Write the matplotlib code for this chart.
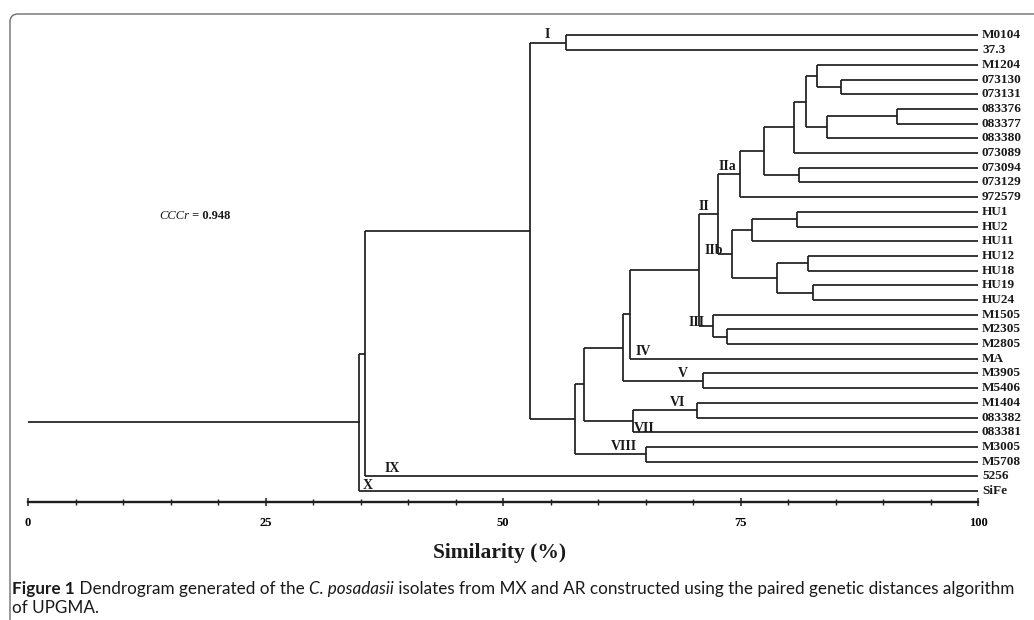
import numpy as np
import matplotlib.pyplot as plt
from matplotlib.patches import FancyBboxPatch

# isolates, top to bottom
leaves = ["M0104", "37.3", "M1204", "073130", "073131", "083376", "083377",
          "083380", "073089", "073094", "073129", "972579", "HU1", "HU2",
          "HU11", "HU12", "HU18", "HU19", "HU24", "M1505", "M2305", "M2805",
          "MA", "M3905", "M5406", "M1404", "083382", "083381", "M3005",
          "M5708", "5256", "SiFe"]

# UPGMA joins: node name, the two children, similarity (%) of the join
node_names = ["a1", "a2", "a3", "a4", "a5", "a6", "a7", "a8", "IIa",
              "b1", "b2", "b3", "b4", "b5", "IIb", "II",
              "c1", "III", "c2", "IV", "V", "c3", "VI", "VII", "c4", "VIII",
              "c5", "I", "c6", "IX", "X"]
child_a = ["073130", "M1204", "083376", "a3", "a2", "a5", "073094", "a6", "a8",
           "HU1", "b1", "HU12", "HU19", "b3", "b2", "IIa",
           "M2305", "M1505", "II", "c2", "M3905", "IV", "M1404", "VI", "c3", "M3005",
           "c4", "M0104", "I", "c6", "IX"]
child_b = ["073131", "a1", "083377", "083380", "a4", "073089", "073129", "a7", "972579",
           "HU2", "HU11", "HU18", "HU24", "b4", "b5", "IIb",
           "M2805", "c1", "III", "MA", "M5406", "V", "083382", "083381", "VII", "M5708",
           "VIII", "37.3", "c5", "5256", "SiFe"]
similarity = [85.6, 83.1, 91.5, 84.1, 81.9, 80.6, 81.2, 77.5, 74.9,
              80.9, 76.2, 82.1, 82.6, 78.8, 74.1, 72.6,
              73.6, 72.1, 70.6, 63.4, 71.1, 62.6, 70.4, 63.7, 58.5, 65.0,
              57.6, 56.6, 52.8, 35.5, 34.8]

axis_ticks = [0, 25, 50, 75, 100]
cccr_value = "0.948"

W, H = 1034, 620
fig = plt.figure(figsize=(W / 100, H / 100), dpi=100)
ax = fig.add_axes([28 / W, 1 - 502 / H, 950 / W, (502 - 20.8) / H])

lc = "#1e1e1e"
lw = 1.25
serif = "Liberation Serif"

pos = {name: (100.0, float(i)) for i, name in enumerate(leaves)}
parent_x = {}
for node, a, b, s in zip(node_names, child_a, child_b, similarity):
    (xa, ya), (xb, yb) = pos[a], pos[b]
    ax.plot([s, xa], [ya, ya], color=lc, lw=lw, solid_capstyle="butt")
    ax.plot([s, xb], [yb, yb], color=lc, lw=lw, solid_capstyle="butt")
    ax.plot([s, s], [ya, yb], color=lc, lw=lw, solid_capstyle="butt")
    parent_x[a] = s
    parent_x[b] = s
    pos[node] = (s, (ya + yb) / 2)

root_x, root_y = pos[node_names[-1]]
ax.plot([0, root_x], [root_y, root_y], color=lc, lw=lw)

for i, name in enumerate(leaves):
    ax.annotate(name, (100, i), xytext=(4, 0), textcoords="offset pixels",
                ha="left", va="center", fontsize=9.5, family=serif,
                weight="bold", color="#1a1a1a", annotation_clip=False)


# clade labels, placed next to the branch that leads to the named node
def clade_label(text, node, where, dx, dy, ha, va):
    nx, ny = pos[node]
    px = parent_x[node]
    x = {"left": px, "right": nx, "mid": (px + nx) / 2}[where]
    ax.annotate(text, (x, ny), xytext=(dx, dy), textcoords="offset pixels",
                ha=ha, va=va, fontsize=10, family=serif, weight="bold",
                color="#1a1a1a", annotation_clip=False)


clade_label("I", "I", "mid", 0, 2, "center", "bottom")
clade_label("II", "II", "left", 0, 1, "left", "bottom")
clade_label("IIa", "IIa", "left", 1, 1, "left", "bottom")
clade_label("IIb", "IIb", "left", 5, -3, "right", "bottom")
clade_label("III", "III", "left", 6, -3, "right", "bottom")
clade_label("IV", "MA", "left", 5, 1, "left", "bottom")
clade_label("V", "V", "right", -16, 1, "right", "bottom")
clade_label("VI", "VI", "right", -12, 1, "right", "bottom")
clade_label("VII", "083381", "left", 1, 4, "left", "center")
clade_label("VIII", "VIII", "right", -9, 1, "right", "bottom")
clade_label("IX", "5256", "left", 19, 1, "left", "bottom")
clade_label("X", "SiFe", "left", 4, 5, "left", "center")

# similarity axis
ax.set_xlim(0, 100)
ax.set_ylim(31.75, -1)
for s in ["top", "left", "right"]:
    ax.spines[s].set_visible(False)
ax.spines["bottom"].set_bounds(0, 100)
ax.spines["bottom"].set_linewidth(1.7)
ax.spines["bottom"].set_color(lc)
ax.set_yticks([])
ax.set_xticks(axis_ticks)
ax.set_xticks(np.arange(0, 101, 5), minor=True)
ax.set_xticklabels([str(t) for t in axis_ticks], family=serif,
                   weight="bold", fontsize=9)
ax.tick_params(axis="x", which="major", direction="inout", length=6,
               width=1.1, color=lc, pad=8)
ax.tick_params(axis="x", which="minor", direction="inout", length=4,
               width=1.0, color=lc)
ax.patch.set_alpha(0)

fig.text(500 / W, 1 - 553 / H, "Similarity (%)", ha="center", va="center",
         fontsize=15.5, family=serif, weight="bold", color="#1a1a1a")

# CCCr annotation
t = fig.text(159 / W, 1 - 216 / H, "CCCr", fontsize=9, family=serif,
             style="italic", color="#1a1a1a", va="center")
ax.annotate(" = " + cccr_value, xy=(1, 0.5), xycoords=t, va="center",
            fontsize=9, family=serif, weight="bold", color="#1a1a1a")

# caption
cap_font = dict(family="Lato", fontsize=12.3, color="#1a1a1a")
c1 = fig.text(12 / W, 1 - 594 / H, "Figure 1", weight="bold", va="baseline",
              **cap_font)
c2 = ax.annotate(" Dendrogram generated of the ", xy=(1, 0), xycoords=c1,
                 va="bottom", **cap_font)
c3 = ax.annotate("C. posadasii", xy=(1, 0), xycoords=c2, va="bottom",
                 style="italic", **cap_font)
ax.annotate(" isolates from MX and AR constructed using the paired genetic "
            "distances algorithm", xy=(1, 0), xycoords=c3, va="bottom",
            **cap_font)
fig.text(12 / W, 1 - 613 / H, "of UPGMA.", va="baseline", **cap_font)

# rounded frame around figure and caption
frame = FancyBboxPatch((10, -30), 1100, H - 14 + 30,
                       boxstyle="round,pad=0,rounding_size=8",
                       transform=None, fill=False, edgecolor="#6e6e6e",
                       lw=1.0)
fig.patches.append(frame)

fig.savefig("out.png", dpi=100)
